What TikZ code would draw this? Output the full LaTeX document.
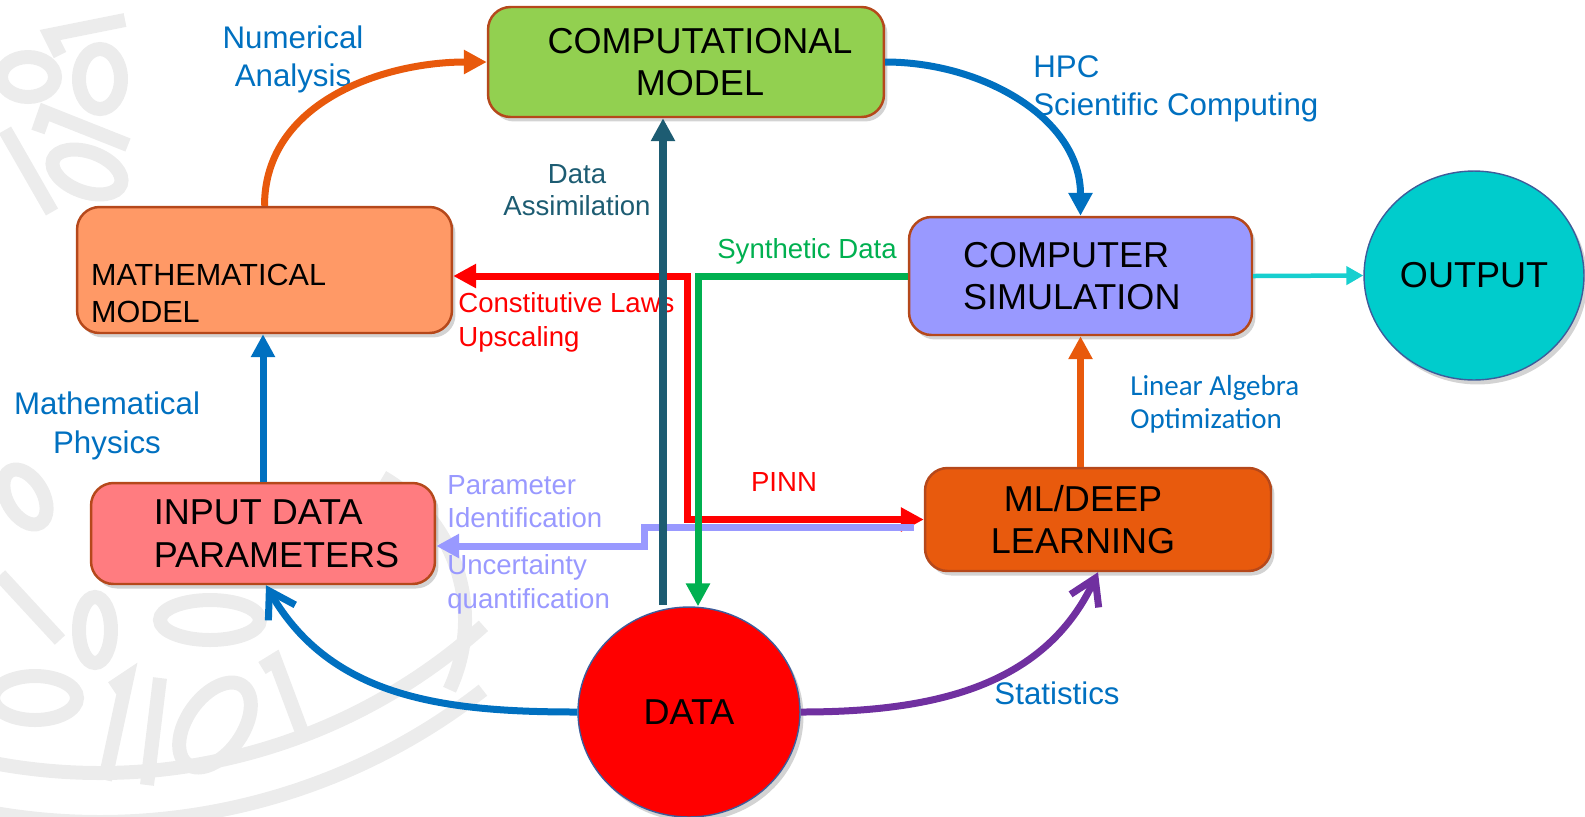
\documentclass[tikz,border=0pt]{standalone}
\usepackage{fontspec}
\setmainfont{Liberation Sans}
\newfontfamily\calibrifont{Carlito}
\usetikzlibrary{arrows.meta,positioning,calc,shapes.geometric,shadows}
\definecolor{txtblue}{HTML}{0070C0}
\definecolor{orangearr}{HTML}{E8590C}
\definecolor{tealarr}{HTML}{1D5C72}
\definecolor{greenarr}{HTML}{00B050}
\definecolor{lavender}{HTML}{9999FF}
\definecolor{purplearr}{HTML}{7030A0}
\definecolor{cyanarr}{HTML}{17CFCF}
\definecolor{boxedge}{HTML}{B5481B}
\definecolor{ovaledge}{HTML}{3E5C9A}
\definecolor{compfill}{HTML}{92D050}
\definecolor{mathfill}{HTML}{FF9966}
\definecolor{simfill}{HTML}{9999FF}
\definecolor{mlfill}{HTML}{E85A0D}
\definecolor{inpfill}{HTML}{FF7C80}
\definecolor{outfill}{HTML}{00CCCC}
\definecolor{wmgray}{HTML}{ECECEC}

\begin{document}
\begin{tikzpicture}[x=0.02cm, y=0.02cm,
  box/.style={rectangle, rounded corners=0.45cm, draw=boxedge, line width=1.4pt, inner sep=0pt, align=center,
    font=\fontsize{20.5}{24.3}\selectfont,
    drop shadow={shadow xshift=0.07cm, shadow yshift=-0.09cm, opacity=0.35}},
  oval/.style={ellipse, draw=ovaledge, line width=0.8pt, inner sep=0pt, font=\fontsize{20.5}{24.3}\selectfont,
    drop shadow={shadow xshift=0.07cm, shadow yshift=-0.09cm, opacity=0.35}},
  lbl/.style={inner sep=0pt, align=center, text=txtblue, font=\fontsize{17.8}{21.8}\selectfont},
  sml/.style={inner sep=0pt, align=left, font=\fontsize{15.7}{18.8}\selectfont},
  wm/.style={draw=wmgray, line width=0.28cm},
  conn/.style={line width=0.14cm},
  headarr/.style={-{Triangle[length=0.46cm, width=0.46cm]}},
  openarr/.style={-{Straight Barb[length=0.5cm, width=0.62cm]}}]
  \useasboundingbox (0,0) rectangle (1585,-816);

  % faint background digits
  \draw[wm] (60,-55) -- (50,-35) -- (125,-20);
  \draw[wm] (100,-79) ellipse [x radius=21, y radius=30];
  \draw[wm] (28,-77) ellipse [x radius=27, y radius=20];
  \draw[wm] (38,-132) -- (45,-112) -- (128,-145);
  \draw[wm, rotate around={-20:(87,-172)}] (87,-172) ellipse [x radius=36, y radius=20];
  \draw[wm] (5,-130) -- (52,-212);
  \draw[wm, rotate around={-60:(25,-497)}] (25,-497) ellipse [x radius=30, y radius=18];
  \draw[wm] (0,-575) -- (60,-640);
  \draw[wm] (95,-630) ellipse [x radius=16, y radius=33];
  \draw[wm] (210,-620) ellipse [x radius=50, y radius=20];
  \draw[wm] (35,-698) ellipse [x radius=42, y radius=22];
  \draw[wm] (112,-688) -- (127,-678) -- (105,-780);
  \draw[wm] (160,-678) -- (147,-785);
  \draw[wm, rotate around={-35:(215,-725)}] (215,-725) ellipse [x radius=28, y radius=48];
  \draw[wm] (262,-668) -- (275,-660) -- (305,-740);
  \draw[wm] (300,-620) ++(60:165) arc (60:-25:165);
  \draw[wm] (100,-200) ++(255:573) arc (255:312:573);
  \draw[wm] (100,-200) ++(255:622) arc (255:308:622);

  % boxes
  \node[box, fill=compfill, minimum width=7.92cm, minimum height=2.2cm] (comp) at (686,-62)
    {\hspace*{0.56cm}COMPUTATIONAL\\\hspace*{0.56cm}MODEL};
  \node[box, fill=mathfill, minimum width=7.5cm, minimum height=2.52cm, text width=6.94cm, inner xsep=0.28cm,
    align=left, font=\fontsize{17.4}{21}\selectfont] (mathm) at (264.5,-270) {\rule{0pt}{1.37cm}MATHEMATICAL\\MODEL};
  \node[box, fill=simfill, minimum width=6.86cm, minimum height=2.36cm, text width=4.7cm, inner xsep=1.08cm,
    align=left] (sim) at (1080.5,-276) {COMPUTER\\SIMULATION};
  \node[box, fill=mlfill, minimum width=6.92cm, minimum height=2.06cm] (ml) at (1098,-519.5)
    {ML/DEEP\hspace*{0.6cm}\\LEARNING\hspace*{0.6cm}};
  \node[box, fill=inpfill, minimum width=6.88cm, minimum height=2.02cm, align=left] (inp) at (263,-533.5)
    {\hspace*{0.54cm}INPUT DATA\\\hspace*{0.54cm}PARAMETERS};
  \node[oval, fill=outfill, minimum width=4.4cm, minimum height=4.18cm] (outp) at (1474,-275.5) {OUTPUT};
  \node[oval, fill=red, minimum width=4.44cm, minimum height=4.2cm] (data) at (689,-712) {DATA};

  % labels
  \node[lbl] (numan) at (293,-59.5) {Numerical\\Analysis};
  \node[lbl, anchor=west, align=left] (hpc) at (1033,-89) {HPC\\Scientific Computing};
  \node[lbl] (mphys) at (107,-426) {Mathematical\\Physics};
  \node[lbl] (stats) at (1057,-693) {Statistics};
  \node[lbl, anchor=west, align=left, font=\calibrifont\fontsize{16.5}{18.6}\selectfont] (linalg) at (1130,-404) {Linear Algebra\\Optimization};
  \node[sml, text=tealarr, align=center, font=\fontsize{15.7}{18.3}\selectfont] (assim) at (577,-190) {Data\\Assimilation};
  \node[sml, text=greenarr] (synth) at (807,-251) {Synthetic Data};
  \node[sml, text=red, anchor=west, font=\fontsize{15.7}{19.5}\selectfont] (const) at (458,-322) {Constitutive Laws\\Upscaling};
  \node[sml, text=red] (pinn) at (784,-482) {PINN};
  \node[sml, text=lavender, anchor=west] (paramid) at (447,-502) {Parameter\\Identification};
  \node[sml, text=lavender, anchor=west, font=\fontsize{15.7}{19.3}\selectfont] (uq) at (447,-584.5) {Uncertainty\\quantification};

  % connectors
  \draw[conn, orangearr, headarr] (mathm.north) to[out=90, in=180] (comp.west);
  \draw[conn, txtblue, headarr] (comp.east) to[out=0, in=90] (sim.north);
  \draw[line width=0.09cm, cyanarr, -{Triangle[length=0.34cm, width=0.36cm]}] (sim.east) -- (outp.west);
  \draw[conn, orangearr, headarr] (sim.south |- ml.north) -- (sim.south);
  \draw[conn, txtblue, headarr] (inp.north) -- (inp.north |- mathm.south);
  \draw[conn, txtblue, openarr] (data.west) to[out=180, in=-60] ($(inp.south)+(3,0)$);
  \draw[conn, purplearr, openarr] (data.east) to[out=0, in=-115] (ml.south);

  \coordinate (redbend) at (687,-276);
  \draw[conn, red, {Triangle[length=0.46cm, width=0.46cm]}-{Triangle[length=0.46cm, width=0.46cm]}]
    ($(mathm.east)+(0,-6)$) -- (redbend) |- (ml.west);
  \coordinate (lavstep) at (644,-527.5);
  \draw[conn, lavender, headarr] ($(ml.west)+(-10,-8)$) -- (lavstep) |- ($(inp.east)+(0,-12.5)$);
  \draw[conn, greenarr, headarr] (sim.west) -| ($(data.north)+(9,0)$);
  \coordinate (assimfoot) at (663,-605);
  \draw[line width=0.16cm, tealarr, headarr] (assimfoot) -- (assimfoot |- comp.south);
\end{tikzpicture}
\end{document}
